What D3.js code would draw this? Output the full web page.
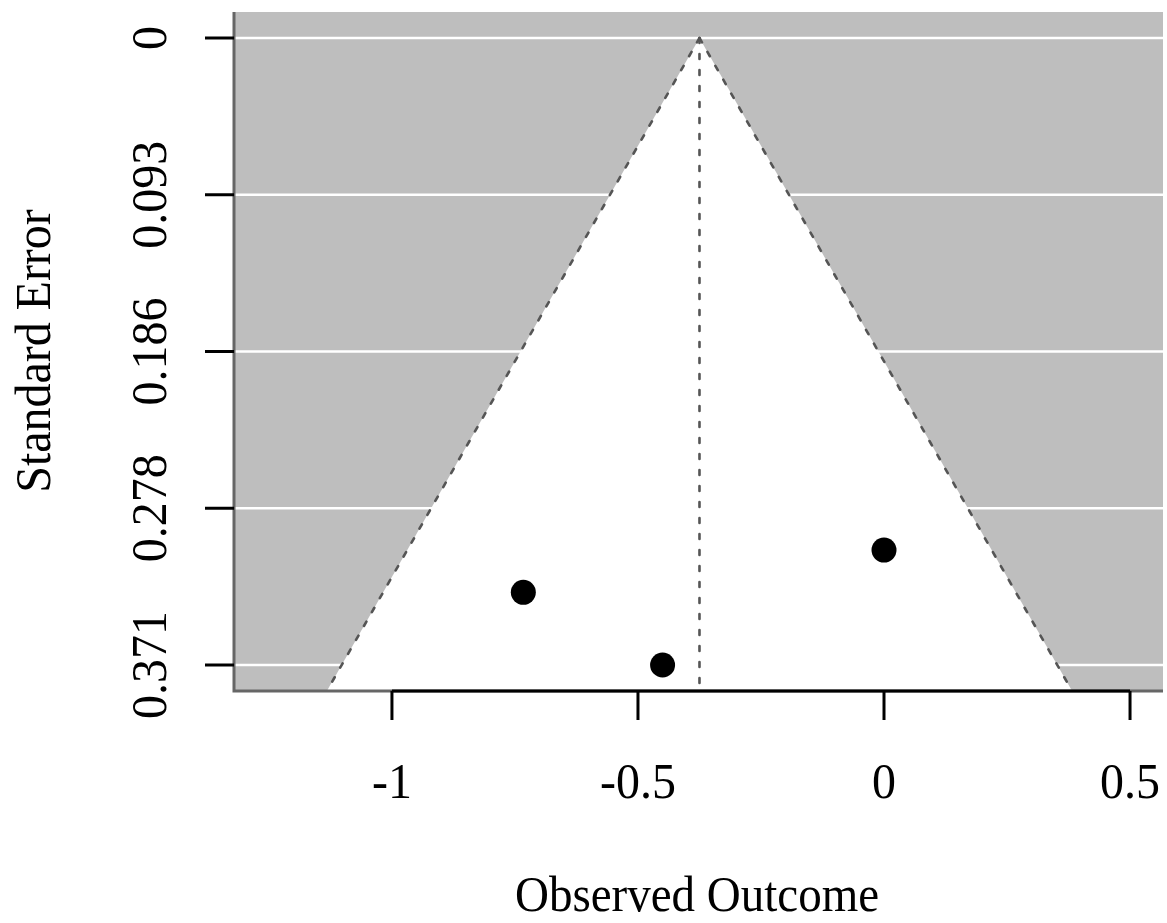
<!DOCTYPE html>
<html>
<head>
<meta charset="utf-8">
<script src="https://cdn.jsdelivr.net/npm/d3@7"></script>
<style>
  body { margin: 0; background: #fff; }
  text { font-family: 'Liberation Serif', 'Times New Roman', serif; fill: #000; }
</style>
</head>
<body>
<div id="chart"></div>
<script>
// Study estimates and their standard errors
const studyEffects = [-0.733, -0.450, 0.000];
const studySE = [0.328, 0.371, 0.303];

// Summary estimate (funnel centre)
const pooledEstimate = -0.375;

// Axis ticks
const xTicks = [-1, -0.5, 0, 0.5];
const xTickLabels = ['-1', '-0.5', '0', '0.5'];
const seTicks = [0, 0.09275, 0.1855, 0.27825, 0.371];
const seTickLabels = ['0', '0.093', '0.186', '0.278', '0.371'];

const width = 1167;
const height = 923;

// Plot region (pixels)
const plot = { left: 234, right: 1163, top: 12, bottom: 691 };
const squeeze = 0.94; // text is a bit narrower than plain Liberation Serif

const x = d3.scaleLinear().domain([-1.321, 0.567]).range([plot.left, plot.right]);
const y = d3.scaleLinear().domain([0, 0.371]).range([38, 665]);
const seBottom = y.invert(plot.bottom);

const svg = d3.select('#chart').append('svg')
  .attr('width', width)
  .attr('height', height);

svg.append('defs').append('clipPath').attr('id', 'clip')
  .append('rect')
  .attr('x', plot.left).attr('y', plot.top)
  .attr('width', plot.right - plot.left).attr('height', plot.bottom - plot.top);

const g = svg.append('g').attr('clip-path', 'url(#clip)');

// Gray background
g.append('rect')
  .attr('x', plot.left).attr('y', plot.top)
  .attr('width', plot.right - plot.left).attr('height', plot.bottom - plot.top)
  .attr('fill', '#bebebe');

// White horizontal reference lines
g.selectAll('line.grid')
  .data(seTicks)
  .join('line')
  .attr('class', 'grid')
  .attr('x1', plot.left).attr('x2', plot.right)
  .attr('y1', d => y(d)).attr('y2', d => y(d))
  .attr('stroke', '#fff')
  .attr('stroke-width', 2.5);

// Funnel (pseudo confidence region)
const half = 1.96 * seBottom;
const funnel = [
  [pooledEstimate, 0],
  [pooledEstimate - half, seBottom],
  [pooledEstimate + half, seBottom]
];
g.append('polygon')
  .attr('points', funnel.map(p => [x(p[0]), y(p[1])].join(',')).join(' '))
  .attr('fill', '#fff');

// Dotted funnel edges and centre line
const dash = { stroke: '#555', width: 2.6, array: '5,11' };
[[funnel[0], funnel[1]], [funnel[0], funnel[2]], [[pooledEstimate, 0], [pooledEstimate, seBottom]]]
  .forEach(seg => {
    g.append('line')
      .attr('x1', x(seg[0][0])).attr('y1', y(seg[0][1]))
      .attr('x2', x(seg[1][0])).attr('y2', y(seg[1][1]))
      .attr('stroke', dash.stroke)
      .attr('stroke-width', dash.width)
      .attr('stroke-dasharray', dash.array)
      .attr('stroke-linecap', 'round');
  });

// Points
g.selectAll('circle')
  .data(studyEffects.map((v, i) => ({ yi: v, se: studySE[i] })))
  .join('circle')
  .attr('cx', d => x(d.yi))
  .attr('cy', d => y(d.se))
  .attr('r', 12.5)
  .attr('fill', '#000');

// Box (left and bottom)
svg.append('path')
  .attr('d', `M${plot.left},${plot.top}V${plot.bottom}H${plot.right}`)
  .attr('fill', 'none')
  .attr('stroke', '#666')
  .attr('stroke-width', 3);

// X axis
svg.append('line')
  .attr('x1', x(xTicks[0])).attr('x2', x(xTicks[xTicks.length - 1]))
  .attr('y1', plot.bottom).attr('y2', plot.bottom)
  .attr('stroke', '#000').attr('stroke-width', 3);
svg.selectAll('line.xtick')
  .data(xTicks)
  .join('line')
  .attr('class', 'xtick')
  .attr('x1', d => x(d)).attr('x2', d => x(d))
  .attr('y1', plot.bottom).attr('y2', plot.bottom + 29)
  .attr('stroke', '#000').attr('stroke-width', 3);
svg.selectAll('text.xlab')
  .data(xTicks)
  .join('text')
  .attr('class', 'xlab')
  .attr('transform', d => `translate(${x(d)},798) scale(${squeeze},1)`)
  .attr('text-anchor', 'middle')
  .style('font-size', '51px')
  .text((d, i) => xTickLabels[i]);

// Y axis ticks
svg.selectAll('line.ytick')
  .data(seTicks)
  .join('line')
  .attr('class', 'ytick')
  .attr('x1', plot.left - 29).attr('x2', plot.left)
  .attr('y1', d => y(d)).attr('y2', d => y(d))
  .attr('stroke', '#000').attr('stroke-width', 3);
svg.selectAll('text.ylab')
  .data(seTicks)
  .join('text')
  .attr('class', 'ylab')
  .attr('transform', d => `translate(166,${y(d)}) rotate(-90) scale(${squeeze},1)`)
  .attr('text-anchor', 'middle')
  .style('font-size', '51px')
  .text((d, i) => seTickLabels[i]);

// Axis titles
svg.append('text')
  .attr('transform', `translate(697,911) scale(${squeeze},1)`)
  .attr('text-anchor', 'middle')
  .style('font-size', '50px')
  .text('Observed Outcome');
svg.append('text')
  .attr('transform', `translate(50,351) rotate(-90) scale(${squeeze},1)`)
  .attr('text-anchor', 'middle')
  .style('font-size', '51px')
  .text('Standard Error');
</script>
</body>
</html>
